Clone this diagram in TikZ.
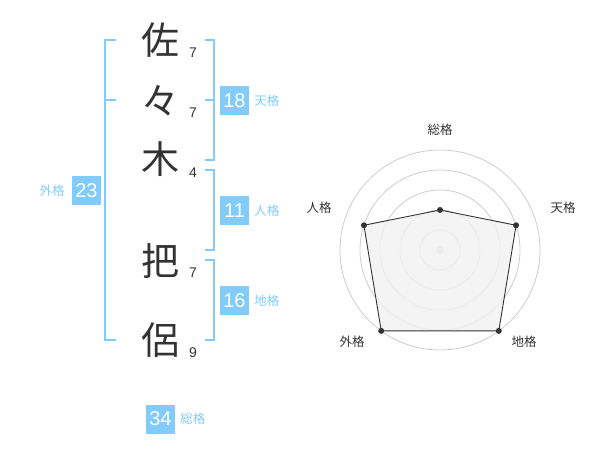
\documentclass[tikz,border=0pt]{standalone}
\usepackage{fontspec}
\setmainfont{Liberation Sans}
\newfontfamily\jpfont{Noto Sans CJK JP}
\usepackage{tikz}
\usetikzlibrary{positioning,calc}
\definecolor{skyblue}{RGB}{129,204,250}
\definecolor{inkgray}{RGB}{51,51,51}
\definecolor{ringgray}{RGB}{204,204,204}
\definecolor{areagray}{RGB}{242,242,242}

\begin{document}
\begin{tikzpicture}[x=1pt, y=-1pt,
        kanji/.style={inner sep=0pt, text=inkgray, font=\jpfont\fontsize{38}{38}\selectfont},
        strokes/.style={inner sep=0pt, text=inkgray, font=\fontsize{14}{14}\selectfont},
        valbox/.style={rectangle, fill=skyblue, text=white, minimum size=29pt, inner sep=0pt, font=\fontsize{20}{20}\selectfont},
        kaku/.style={inner sep=0pt, text=skyblue, font=\jpfont\fontsize{12.5}{12.5}\selectfont},
        bracket/.style={draw=skyblue, line width=2pt},
        ring/.style={draw=ringgray, line width=0.8pt},
        axislabel/.style={inner sep=0pt, text=inkgray, font=\jpfont\fontsize{12.5}{12.5}\selectfont},
        dot/.style={circle, fill=inkgray, inner sep=0pt, minimum size=6pt}]

        \useasboundingbox (0,0) rectangle (600,470);

        % Name characters
        \node[kanji] (sa) at (160,40) {佐};
        \node[kanji] (noma) at (160,101) {々};
        \node[kanji] (ki) at (160,159) {木};
        \node[kanji] (ha) at (160,261) {把};
        \node[kanji] (ryo) at (160,340) {侶};

        % Stroke counts
        \node[strokes] (n1) at (193,53) {7};
        \node[strokes] (n2) at (193,113) {7};
        \node[strokes] (n3) at (193,173) {4};
        \node[strokes] (n4) at (193,273) {7};
        \node[strokes] (n5) at (193,353) {9};

        % Brackets
        \draw[bracket] (116,40) -- (105,40) -- (105,340) -- (116,340);
        \draw[bracket] (105,100) -- (116,100);
        \draw[bracket] (205,40) -- (214,40) -- (214,160) -- (205,160);
        \draw[bracket] (205,100) -- (214,100);
        \draw[bracket] (205,170) -- (214,170) -- (214,250) -- (205,250);
        \draw[bracket] (205,260) -- (214,260) -- (214,340) -- (205,340);

        % Values
        \node[valbox] (ten) at (234.5,100.5) {18};
        \node[valbox] (jin) at (234.5,210.5) {11};
        \node[valbox] (chi) at (234.5,300.5) {16};
        \node[valbox] (gai) at (86.5,190.5) {23};
        \node[valbox] (so) at (160.5,419) {34};

        \node[kaku, right=5pt of ten] (tenlbl) {天格};
        \node[kaku, right=5pt of jin] (jinlbl) {人格};
        \node[kaku, right=5pt of chi] (chilbl) {地格};
        \node[kaku, left=7pt of gai] (gailbl) {外格};
        \node[kaku, right=5pt of so] (solbl) {総格};

        % Radar chart
        \coordinate (ctr) at (440,250);
        \foreach \r in {20,40,60,80,100}
            \draw[ring] (ctr) circle[radius=\r pt];
        \fill[ringgray] (ctr) circle[radius=4pt];

        \coordinate (pso) at ($(ctr)+(-90:40)$);
        \coordinate (pten) at ($(ctr)+(-18:80)$);
        \coordinate (pchi) at ($(ctr)+(54:100)$);
        \coordinate (pgai) at ($(ctr)+(126:100)$);
        \coordinate (pjin) at ($(ctr)+(198:80)$);

        \filldraw[fill=areagray, fill opacity=0.85, draw=inkgray, line width=0.9pt]
            (pso) -- (pten) -- (pchi) -- (pgai) -- (pjin) -- cycle;
        \foreach \p in {pso,pten,pchi,pgai,pjin}
            \node[dot] at (\p) {};

        \node[axislabel] (aso) at (440,130) {総格};
        \node[axislabel] (aten) at (563,208) {天格};
        \node[axislabel] (achi) at (524,342) {地格};
        \node[axislabel] (agai) at (352,342) {外格};
        \node[axislabel] (ajin) at (319,208) {人格};

    \end{tikzpicture}
\end{document}
